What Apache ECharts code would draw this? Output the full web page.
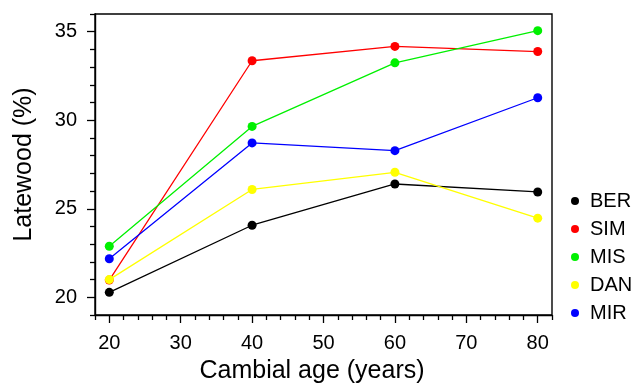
<!DOCTYPE html>
<html>
<head>
<meta charset="utf-8">
<script src="https://cdn.jsdelivr.net/npm/echarts@6/dist/echarts.min.js"></script>
<style>
	html, body { margin: 0; padding: 0; background: #fff; }
	#chart { width: 636px; height: 389px; }
</style>
</head>
<body>
<div id="chart"></div>
<script>
// data
var ages = [20, 40, 60, 80];
var seriesNames = ['BER', 'SIM', 'MIS', 'DAN', 'MIR'];
var seriesColors = ['#000000', '#ff0000', '#00f000', '#ffff00', '#0000ff'];
var berValues = [20.28, 24.07, 26.40, 25.95];
var simValues = [20.97, 33.36, 34.17, 33.88];
var misValues = [22.88, 29.65, 33.24, 35.06];
var danValues = [21.00, 26.09, 27.06, 24.47];
var mirValues = [22.18, 28.72, 28.28, 31.27];
var xMajorTicks = [20, 30, 40, 50, 60, 70, 80];
var xMinorTicks = [18, 22, 24, 26, 28, 32, 34, 36, 38, 42, 44, 46, 48, 52, 54, 56, 58, 62, 64, 66, 68, 72, 74, 76, 78, 82];
var yMajorTicks = [20, 25, 30, 35];
var yMinorTicks = [19, 21, 22, 23, 24, 26, 27, 28, 29, 31, 32, 33, 34, 36];

var allValues = [berValues, simValues, misValues, danValues, mirValues];

(function(){
	var font = '"Liberation Sans", Arial, Helvetica, sans-serif';
	var chart = echarts.init(document.getElementById('chart'));

	function pairs(vals){
		return ages.map(function(a, i){ return [a, vals[i]]; });
	}

	var series = seriesNames.map(function(name, i){
		return {
			name: name,
			type: 'line',
			data: pairs(allValues[i]),
			symbol: 'circle',
			symbolSize: 9,
			showSymbol: true,
			itemStyle: { color: seriesColors[i] },
			lineStyle: { color: seriesColors[i], width: 1.3 },
			emphasis: { disabled: true },
			animation: false
		};
	});

	var axisBase = {
		type: 'value',
		splitLine: { show: false }
	};

	var option = {
		backgroundColor: '#fff',
		animation: false,
		grid: {
			left: 95, top: 14, right: 84, bottom: 71,
			show: true, borderColor: '#000', borderWidth: 1.4,
			containLabel: false
		},
		legend: {
			orient: 'vertical',
			left: 566,
			top: 186,
			itemWidth: 8,
			itemHeight: 8,
			itemGap: 8,
			icon: 'circle',
			data: seriesNames,
			textStyle: { fontFamily: font, fontSize: 20, color: '#000', padding: [0, 0, 0, 6] }
		},
		xAxis: [
			echarts.util.extend({
				min: 18, max: 82,
				position: 'bottom',
				name: 'Cambial age (years)',
				nameLocation: 'middle',
				nameGap: 44,
				nameTextStyle: { fontFamily: font, fontSize: 25, color: '#000', padding: [0, 23, 0, 0] },
				axisLine: { show: true, lineStyle: { color: '#000', width: 1.4 } },
				axisTick: { show: true, length: 8, customValues: xMajorTicks, lineStyle: { color: '#000', width: 1.3 } },
				axisLabel: { show: true, customValues: xMajorTicks, margin: 18, fontFamily: font, fontSize: 20, color: '#000' }
			}, axisBase),
			echarts.util.extend({
				min: 18, max: 82,
				position: 'bottom',
				axisLine: { show: false },
				axisTick: { show: true, length: 5, customValues: xMinorTicks, lineStyle: { color: '#000', width: 1.3 } },
				axisLabel: { show: false }
			}, axisBase)
		],
		yAxis: [
			echarts.util.extend({
				min: 19, max: 36,
				position: 'left',
				name: 'Latewood (%)',
				nameLocation: 'middle',
				nameGap: 58,
				nameTextStyle: { fontFamily: font, fontSize: 25, color: '#000' },
				axisLine: { show: true, lineStyle: { color: '#000', width: 1.4 } },
				axisTick: { show: true, length: 8, customValues: yMajorTicks, lineStyle: { color: '#000', width: 1.3 } },
				axisLabel: { show: true, customValues: yMajorTicks, margin: 18, fontFamily: font, fontSize: 20, color: '#000' }
			}, axisBase),
			echarts.util.extend({
				min: 19, max: 36,
				position: 'left',
				axisLine: { show: false },
				axisTick: { show: true, length: 5, customValues: yMinorTicks, lineStyle: { color: '#000', width: 1.3 } },
				axisLabel: { show: false }
			}, axisBase)
		],
		series: series
	};

	chart.setOption(option);
}());
</script>
</body>
</html>
